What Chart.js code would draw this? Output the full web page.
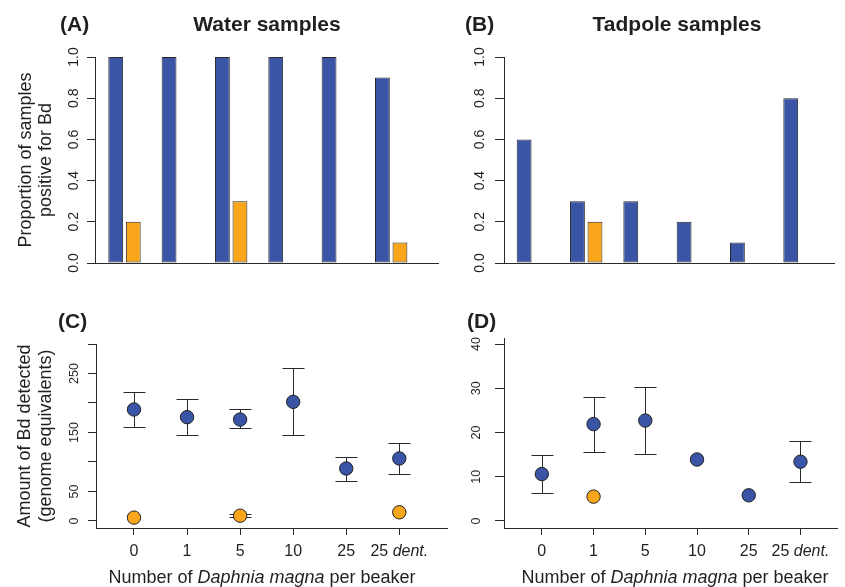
<!DOCTYPE html>
<html>
<head>
<meta charset="utf-8">
<script src="https://cdn.jsdelivr.net/npm/chart.js@4.4.1/dist/chart.umd.min.js"></script>
<style>
  body { margin: 0; background: #fff; width: 845px; height: 587px; position: relative; overflow: hidden;
         font-family: "Liberation Sans", Arial, Helvetica, sans-serif; color: #231f20; }
  canvas { position: absolute; }
  .lab { position: absolute; font-weight: bold; font-size: 21px; line-height: 21px; white-space: nowrap; }
  .ttl { position: absolute; font-weight: bold; font-size: 21px; line-height: 21px; white-space: nowrap; transform: translateX(-50%); }
  .xt { position: absolute; font-size: 18px; line-height: 18px; white-space: nowrap; transform: translateX(-50%); }
</style>
</head>
<body>
<canvas id="cA" width="445" height="300" style="left:0;top:0"></canvas>
<canvas id="cB" width="435" height="300" style="left:410px;top:0"></canvas>
<canvas id="cC" width="460" height="287" style="left:0;top:300px"></canvas>
<canvas id="cD" width="435" height="287" style="left:410px;top:300px"></canvas>

<div class="lab" style="left:60px;top:13px">(A)</div>
<div class="ttl" style="left:267px;top:13px">Water samples</div>
<div class="lab" style="left:465px;top:13px">(B)</div>
<div class="ttl" style="left:677px;top:13px">Tadpole samples</div>
<div class="lab" style="left:58px;top:310px">(C)</div>
<div class="lab" style="left:467px;top:310px">(D)</div>
<div class="xt" style="left:262px;top:568px">Number of <i>Daphnia magna</i> per beaker</div>
<div class="xt" style="left:675px;top:568px">Number of <i>Daphnia magna</i> per beaker</div>

<script>
const categories = ['0', '1', '5', '10', '25', '25 dent.'];

// (A) water samples - proportion positive for Bd
const waterPropBlue = [1, 1, 1, 1, 1, 0.9];
const waterPropOrange = [0.2, 0, 0.3, 0, 0, 0.1];
// (B) tadpole samples - proportion positive for Bd
const tadPropBlue = [0.6, 0.3, 0.3, 0.2, 0.1, 0.8];
const tadPropOrange = [0, 0.2, 0, 0, 0, 0];
// (C) water samples - amount detected, with error bars
const waterAmtBlue = [189, 176, 172, 202, 89, 106];
const waterAmtBlueLo = [160, 145, 157, 145, 68, 80];
const waterAmtBlueHi = [219, 206, 190, 259, 109, 132];
const waterAmtOrange = [5.7, null, 9, null, null, 14.7];
const waterAmtOrangeLo = [null, null, 6.5, null, null, null];
const waterAmtOrangeHi = [null, null, 12, null, null, null];
// (D) tadpole samples - amount detected, with error bars
const tadAmtBlue = [10.6, 21.9, 22.7, 13.9, 5.8, 13.4];
const tadAmtBlueLo = [6.3, 15.5, 15.1, null, null, 8.8];
const tadAmtBlueHi = [14.8, 28.0, 30.2, null, null, 18.1];
const tadAmtOrange = [null, 5.5, null, null, null, null];

const propTicks = [0, 0.2, 0.4, 0.6, 0.8, 1.0];
const waterAmtTicks = [0, 50, 100, 150, 200, 250, 300];
const waterAmtLabeled = [0, 50, 150, 250];
const tadAmtTicks = [0, 10, 20, 30, 40];

const BLUE = '#3a55a5', ORANGE = '#f9a61b', INK = '#231f20', EDGE = '#2a2a2a';
const FONT = '"Liberation Sans", Arial, Helvetica, sans-serif';

function pts(vals) {
  return vals.map((v, i) => ({ x: i, y: v })).filter(p => p.y !== null);
}
function tickList(vals) {
  return s => { s.ticks = vals.map(v => ({ value: v })); };
}
const catIdx = categories.map((c, i) => i);

// error bars drawn under the points
const errorBars = {
  id: 'errorBars',
  beforeDatasetsDraw(chart, args, opts) {
    if (!opts.sets) return;
    const { ctx, scales: { x, y } } = chart;
    ctx.save();
    ctx.strokeStyle = EDGE;
    ctx.lineWidth = 1;
    opts.sets.forEach(set => {
      set.lo.forEach((lo, i) => {
        const hi = set.hi[i];
        if (lo === null || hi === null) return;
        const px = Math.round(x.getPixelForValue(i)) + 0.5;
        const y1 = Math.round(y.getPixelForValue(lo)) + 0.5;
        const y2 = Math.round(y.getPixelForValue(hi)) + 0.5;
        ctx.beginPath();
        ctx.moveTo(px, y1); ctx.lineTo(px, y2);
        ctx.moveTo(px - 11, y1); ctx.lineTo(px + 11, y1);
        ctx.moveTo(px - 11, y2); ctx.lineTo(px + 11, y2);
        ctx.stroke();
      });
    });
    ctx.restore();
  }
};

// x tick labels, with "dent." in italics
const xLabels = {
  id: 'xLabels',
  afterDraw(chart, args, opts) {
    if (!opts.labels) return;
    const { ctx, scales: { x } } = chart;
    const reg = '16px ' + FONT, ita = 'italic 16px ' + FONT;
    ctx.save();
    ctx.fillStyle = INK;
    ctx.textBaseline = 'middle';
    ctx.textAlign = 'left';
    opts.labels.forEach((lab, i) => {
      const px = x.getPixelForValue(i);
      const sp = lab.indexOf(' ');
      const a = sp < 0 ? lab : lab.slice(0, sp + 1);
      const b = sp < 0 ? '' : lab.slice(sp + 1);
      ctx.font = reg; const wa = ctx.measureText(a).width;
      ctx.font = ita; const wb = b ? ctx.measureText(b).width : 0;
      let left = px - (wa + wb) / 2;
      ctx.font = reg; ctx.fillText(a, left, opts.y);
      if (b) { ctx.font = ita; ctx.fillText(b, left + wa, opts.y); }
    });
    ctx.restore();
  }
};

Chart.register(errorBars, xLabels);

function barChart(id, blue, orange, o) {
  const bar = { borderColor: EDGE, borderWidth: 1, borderSkipped: false,
                categoryPercentage: 0.658, barPercentage: 0.846 };
  return new Chart(document.getElementById(id), {
    type: 'bar',
    data: {
      datasets: [
        Object.assign({ data: pts(blue), backgroundColor: BLUE }, bar),
        Object.assign({ data: pts(orange), backgroundColor: ORANGE }, bar)
      ]
    },
    options: {
      responsive: false, animation: false, devicePixelRatio: 1,
      layout: { padding: o.pad },
      plugins: { legend: { display: false }, tooltip: { enabled: false } },
      scales: {
        x: {
          type: 'linear', min: o.xmin, max: o.xmax, offset: false,
          afterFit: s => { s.height = o.xh; },
          afterBuildTicks: tickList(catIdx),
          ticks: { display: false }, grid: { display: false, offset: false },
          border: { color: EDGE, width: 1 }
        },
        y: {
          min: 0, max: 1,
          afterFit: s => { s.width = o.yw; },
          afterBuildTicks: tickList(propTicks),
          ticks: { autoSkip: false, minRotation: 90, maxRotation: 90, crossAlign: 'center', padding: o.ypad,
                   color: INK, font: { family: FONT, size: 14 }, callback: v => v.toFixed(1) },
          grid: { drawOnChartArea: false, tickLength: o.tl, color: EDGE },
          border: { color: EDGE, width: 1 },
          title: o.title
            ? { display: true, text: o.title, color: INK, padding: { top: o.tpad, bottom: 0 },
                font: { family: FONT, size: 18, lineHeight: o.tlh } }
            : { display: false }
        }
      }
    }
  });
}

function pointChart(id, blue, orange, o) {
  const pt = { pointRadius: 6.7, pointBorderColor: '#222', pointBorderWidth: 1, showLine: false };
  return new Chart(document.getElementById(id), {
    type: 'scatter',
    data: {
      datasets: [
        Object.assign({ data: pts(blue), pointBackgroundColor: BLUE }, pt),
        Object.assign({ data: pts(orange), pointBackgroundColor: ORANGE }, pt)
      ]
    },
    options: {
      responsive: false, animation: false, devicePixelRatio: 1,
      layout: { padding: o.pad },
      plugins: {
        legend: { display: false }, tooltip: { enabled: false },
        errorBars: { sets: o.err },
        xLabels: { labels: categories, y: 252 }
      },
      scales: {
        x: {
          type: 'linear', min: o.xmin, max: o.xmax,
          afterFit: s => { s.height = o.xh; },
          afterBuildTicks: tickList(catIdx),
          ticks: { display: false },
          grid: { drawOnChartArea: false, tickLength: 7, color: EDGE },
          border: { color: EDGE, width: 1 }
        },
        y: {
          min: o.ymin, max: o.ymax,
          afterFit: s => { s.width = o.yw; },
          afterBuildTicks: tickList(o.ticks),
          ticks: { autoSkip: false, minRotation: 90, maxRotation: 90, crossAlign: 'center', padding: o.ypad,
                   color: INK, font: { family: FONT, size: 12.5 }, callback: o.label },
          grid: { drawOnChartArea: false, tickLength: o.tl, color: EDGE },
          border: { color: EDGE, width: 1 },
          title: o.title
            ? { display: true, text: o.title, color: INK, padding: { top: o.tpad, bottom: 0 },
                font: { family: FONT, size: 18, lineHeight: o.tlh } }
            : { display: false }
        }
      }
    }
  });
}

barChart('cA', waterPropBlue, waterPropOrange, {
  pad: { top: 57, right: 7, left: 0, bottom: 0 }, xh: 37, yw: 95,
  xmin: -0.553, xmax: 5.878, tl: 8, ypad: 3,
  title: ['Proportion of samples', 'positive for Bd'], tpad: 16, tlh: 1.1
});

barChart('cB', tadPropBlue, tadPropOrange, {
  pad: { top: 57, right: 11, left: 0, bottom: 0 }, xh: 37, yw: 94,
  xmin: -0.542, xmax: 5.647, tl: 9, ypad: 5
});

pointChart('cC', waterAmtBlue, waterAmtOrange, {
  pad: { top: 44, right: 13, left: 0, bottom: 0 }, xh: 59, yw: 96,
  xmin: -0.716, xmax: 5.899, ymin: -11.9, ymax: 300, tl: 8, ypad: 3,
  ticks: waterAmtTicks, label: v => waterAmtLabeled.includes(v) ? String(v) : '',
  err: [{ lo: waterAmtBlueLo, hi: waterAmtBlueHi }, { lo: waterAmtOrangeLo, hi: waterAmtOrangeHi }],
  title: ['Amount of Bd detected', '(genome equivalents)'], tpad: 15, tlh: 1.15
});

pointChart('cD', tadAmtBlue, tadAmtOrange, {
  pad: { top: 38, right: 0, left: 0, bottom: 0 }, xh: 59, yw: 94,
  xmin: -0.731, xmax: 5.712, ymin: -1.59, ymax: 41.36, tl: 9, ypad: 12,
  ticks: tadAmtTicks, label: v => String(v),
  err: [{ lo: tadAmtBlueLo, hi: tadAmtBlueHi }]
});
</script>
</body>
</html>
